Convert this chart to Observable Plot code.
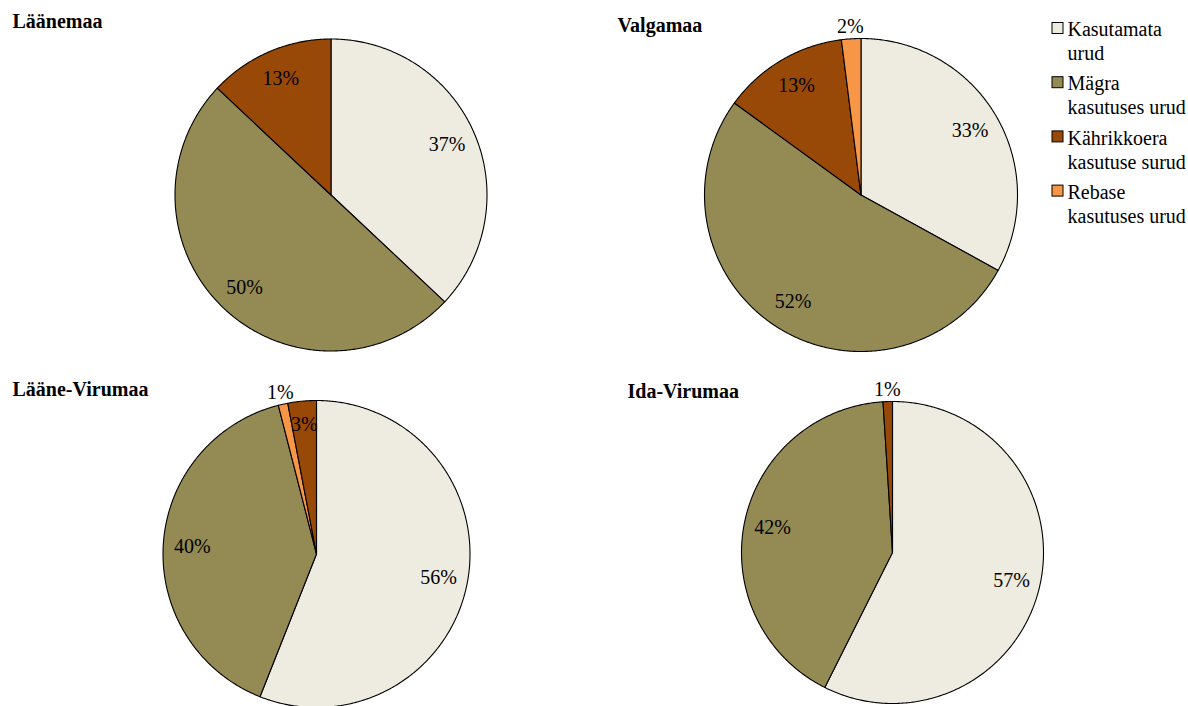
<!DOCTYPE html>
<html><head><meta charset="utf-8">
<script src="https://cdn.jsdelivr.net/npm/d3@7"></script>
<script src="https://cdn.jsdelivr.net/npm/@observablehq/plot@0.6"></script>
<style>body{margin:0;background:#fff;} #chart svg{display:block;} #chart svg text{font-family:"Liberation Serif","Times New Roman",serif;}</style>
</head><body><div id="chart"></div>
<script>
// ---- data ----
const categories = ["Kasutamata urud", "Mägra kasutuses urud", "Kährikkoera kasutuse surud", "Rebase kasutuses urud"];
const legendLabels = ["Kasutamata\nurud", "Mägra\nkasutuses urud", "Kährikkoera\nkasutuse surud", "Rebase\nkasutuses urud"];
const regions = ["Läänemaa", "Valgamaa", "Lääne-Virumaa", "Ida-Virumaa"];
const laanemaa = [37, 50, 13, 0];
const valgamaa = [33, 52, 13, 2];
const laaneVirumaa = [56, 40, 3, 1];
const idaVirumaa = [57.4, 41.6, 1, 0];
const regionValues = [laanemaa, valgamaa, laaneVirumaa, idaVirumaa];
// drawing order of slices (clockwise from 12 o'clock), index into categories
const sliceOrders = [[0, 1, 2, 3], [0, 1, 2, 3], [0, 1, 3, 2], [0, 1, 2, 3]];

// ---- styles / layout ----
const colors = ["#EEECE1", "#948A54", "#984807", "#F79646"];
const FONT = "Liberation Serif";
const W = 1188, H = 706;
const layout = [
  {cx: 330.5, cy: 194.5, r: 156, tx: 12, ty: 27},
  {cx: 860.5, cy: 194.5, r: 156.5, tx: 617, ty: 31},
  {cx: 316, cy: 553.5, r: 153.5, tx: 12, ty: 395},
  {cx: 892, cy: 552, r: 151, tx: 627, ty: 397}
];
const legendX = 1052, legendSq = 11, legendTextX = 1067, legendY0 = 28, legendStep = 54.2;

// ---- build slice polygons and labels from values ----
const slicePts = [];
const labels = [];
regions.forEach((reg, ri) => {
  const vals = regionValues[ri];
  const L = layout[ri];
  const total = d3.sum(vals);
  let cum = 0;
  sliceOrders[ri].forEach(ci => {
    const v = vals[ci];
    if (v <= 0) return;
    const a0 = cum / total * 2 * Math.PI;
    const a1 = (cum + v) / total * 2 * Math.PI;
    cum += v;
    const id = reg + "|" + ci;
    slicePts.push({id, cat: categories[ci], x: L.cx, y: L.cy});
    const n = Math.max(2, Math.ceil((a1 - a0) / (Math.PI / 360)));
    for (let k = 0; k <= n; k++) {
      const a = a0 + (a1 - a0) * k / n;
      slicePts.push({id, cat: categories[ci], x: L.cx + L.r * Math.sin(a), y: L.cy - L.r * Math.cos(a)});
    }
    slicePts.push({id, cat: categories[ci], x: L.cx, y: L.cy});
    const am = (a0 + a1) / 2;
    const f = v <= 2 ? 1.08 : v <= 5 ? 0.85 : 0.81;
    labels.push({text: Math.round(v) + "%", x: L.cx + f * L.r * Math.sin(am), y: L.cy - f * L.r * Math.cos(am)});
  });
});

const titles = regions.map((reg, ri) => ({text: reg, x: layout[ri].tx, y: layout[ri].ty}));
const legend = categories.map((c, i) => ({cat: c, label: legendLabels[i], y: legendY0 + i * legendStep}));

const chart = Plot.plot({
  width: W, height: H, margin: 0,
  x: {domain: [0, W], range: [0, W], axis: null},
  y: {domain: [0, H], range: [0, H], axis: null},
  color: {domain: categories, range: colors},
  style: {fontFamily: FONT, background: "#fff", color: "#000"},
  marks: [
    Plot.line(slicePts, {x: "x", y: "y", z: "id", fill: "cat", stroke: "#000", strokeWidth: 1.1, strokeLinejoin: "round", curve: "linear"}),
    Plot.text(labels, {x: "x", y: "y", text: "text", fontFamily: FONT, fontSize: 20, fill: "#000", textAnchor: "middle", lineAnchor: "middle"}),
    Plot.text(titles, {x: "x", y: "y", text: "text", fontFamily: FONT, fontSize: 20, fontWeight: "bold", fill: "#000", textAnchor: "start", lineAnchor: "bottom"}),
    Plot.rect(legend, {x1: () => legendX, x2: () => legendX + legendSq, y1: d => d.y - legendSq / 2, y2: d => d.y + legendSq / 2, fill: "cat", stroke: "#000", strokeWidth: 1}),
    Plot.text(legend, {x: () => legendTextX, y: d => d.y - 9.3, text: "label", fontFamily: FONT, fontSize: 20, fill: "#000", textAnchor: "start", lineAnchor: "top", lineHeight: 1.2})
  ]
});
document.getElementById("chart").append(chart);
</script>
</body></html>
